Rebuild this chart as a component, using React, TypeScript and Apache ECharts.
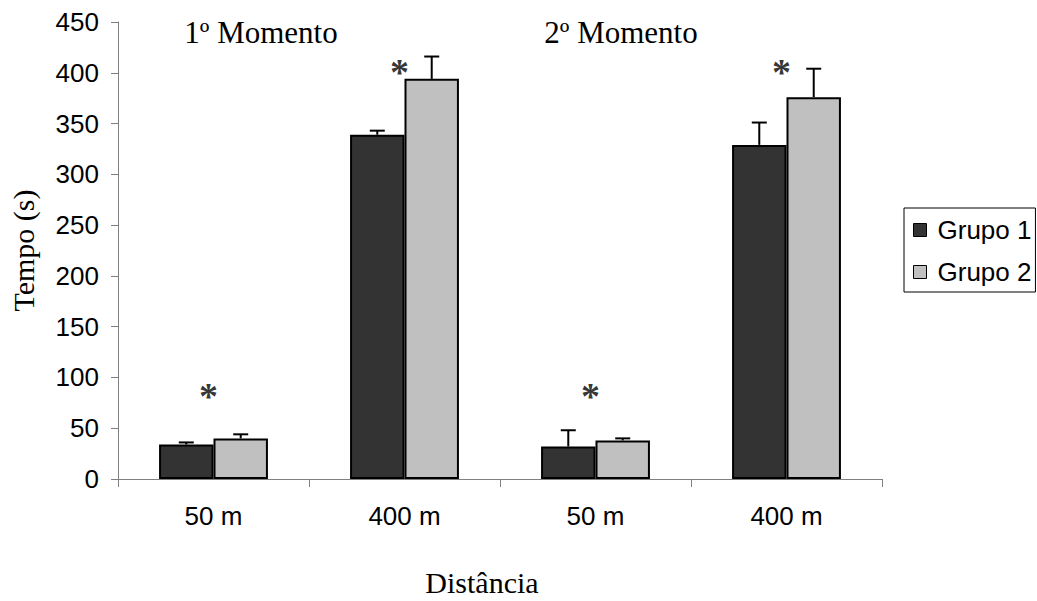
import React, { useEffect, useRef } from "react";
import * as echarts from "echarts";

const categories = ["50 m", "400 m", "50 m", "400 m"];
const grupo1 = [34, 339, 32, 329];
const grupo2 = [40, 394, 38, 376];
const grupo1ErrTop = [36, 343, 48, 351];
const grupo2ErrTop = [44, 416, 40, 404];
const asteriskY = [86, 405, 86, 405];
const momentLabels = ["1º Momento", "2º Momento"];
const yMin = 0;
const yMax = 450;
const yInterval = 50;

const SANS = "Liberation Sans";
const SERIF = "Liberation Serif";
const CAT_GAP = 0.43;

function errorSeries(name: string, tops: number[], vals: number[], side: number) {
  return {
    type: "custom",
    name,
    z: 3,
    data: tops.map((t, i) => [i, vals[i], t]),
    encode: { x: 0, y: [1, 2] },
    renderItem: (params: any, api: any) => {
      const i = api.value(0);
      const base = api.coord([i, api.value(1)]);
      const top = api.coord([i, api.value(2)]);
      const catW = api.size([1, 0])[0];
      const bw = (catW * (1 - CAT_GAP)) / 2;
      const x = base[0] + (side * bw) / 2;
      const half = 7.5;
      const st = { stroke: "#000", lineWidth: 2 };
      return {
        type: "group",
        children: [
          { type: "line", shape: { x1: x, y1: base[1], x2: x, y2: top[1] }, style: st },
          { type: "line", shape: { x1: x - half, y1: top[1], x2: x + half, y2: top[1] }, style: st },
        ],
      };
    },
  };
}

export default function App() {
  const ref = useRef<HTMLDivElement>(null);
  useEffect(() => {
    document.body.style.margin = "0";
    const chart = echarts.init(ref.current!, null, { renderer: "svg" });
    chart.setOption({
      animation: false,
      backgroundColor: "#fff",
      grid: { left: 118, top: 22, right: 155, bottom: 122, outerBoundsMode: "none", containLabel: false },
      legend: {
        data: ["Grupo 1", "Grupo 2"],
        orient: "vertical",
        left: 904,
        top: 208,
        padding: [9, 4, 7, 9],
        itemWidth: 13,
        itemHeight: 13,
        itemGap: 16,
        icon: "rect",
        borderColor: "#000",
        borderWidth: 1,
        itemStyle: { borderColor: "#000", borderWidth: 1 },
        textStyle: { fontSize: 26, fontFamily: SANS, color: "#000", padding: [0, 0, 0, 6] },
      },
      xAxis: {
        type: "category",
        data: categories,
        name: "Distância",
        nameLocation: "middle",
        nameGap: 88,
        nameTextStyle: { fontSize: 30, fontFamily: SERIF, color: "#000", padding: [0, 36, 0, 0] },
        axisLine: { lineStyle: { color: "#808080", width: 1 } },
        axisTick: { show: true, length: 8, lineStyle: { color: "#808080" } },
        axisLabel: { fontSize: 26, fontFamily: SANS, color: "#000", margin: 24 },
      },
      yAxis: {
        type: "value",
        min: yMin,
        max: yMax,
        interval: yInterval,
        name: "Tempo (s)",
        nameLocation: "middle",
        nameGap: 80,
        nameTextStyle: { fontSize: 30, fontFamily: SERIF, color: "#000" },
        axisLine: { show: true, lineStyle: { color: "#808080", width: 1 } },
        axisTick: { show: true, length: 7, lineStyle: { color: "#808080" } },
        axisLabel: { fontSize: 26, fontFamily: SANS, color: "#000", margin: 19 },
        splitLine: { show: false },
      },
      graphic: [
        {
          type: "text",
          x: 261,
          y: 32,
          style: { text: momentLabels[0], font: `31px "${SERIF}"`, fill: "#000", textAlign: "center", textVerticalAlign: "middle" },
        },
        {
          type: "text",
          x: 621,
          y: 32,
          style: { text: momentLabels[1], font: `31px "${SERIF}"`, fill: "#000", textAlign: "center", textVerticalAlign: "middle" },
        },
      ],
      series: [
        {
          type: "bar",
          name: "Grupo 1",
          data: grupo1,
          barGap: "0%",
          barCategoryGap: `${CAT_GAP * 100}%`,
          itemStyle: { color: "#333333", borderColor: "#000", borderWidth: 2 },
        },
        {
          type: "bar",
          name: "Grupo 2",
          data: grupo2,
          barGap: "0%",
          barCategoryGap: `${CAT_GAP * 100}%`,
          itemStyle: { color: "#c0c0c0", borderColor: "#000", borderWidth: 2 },
        },
        errorSeries("Erro Grupo 1", grupo1ErrTop, grupo1, -1),
        errorSeries("Erro Grupo 2", grupo2ErrTop, grupo2, 1),
        {
          type: "scatter",
          name: "Significância",
          data: asteriskY,
          symbolSize: 1,
          itemStyle: { color: "rgba(0,0,0,0)" },
          label: {
            show: true,
            position: "inside",
            formatter: "*",
            fontSize: 38,
            fontWeight: "bold",
            fontFamily: SERIF,
            color: "#000",
            offset: [-5, 4],
          },
          z: 4,
        },
      ],
    });
    return () => chart.dispose();
  }, []);
  return <div ref={ref} style={{ width: 1037, height: 601 }} />;
}
